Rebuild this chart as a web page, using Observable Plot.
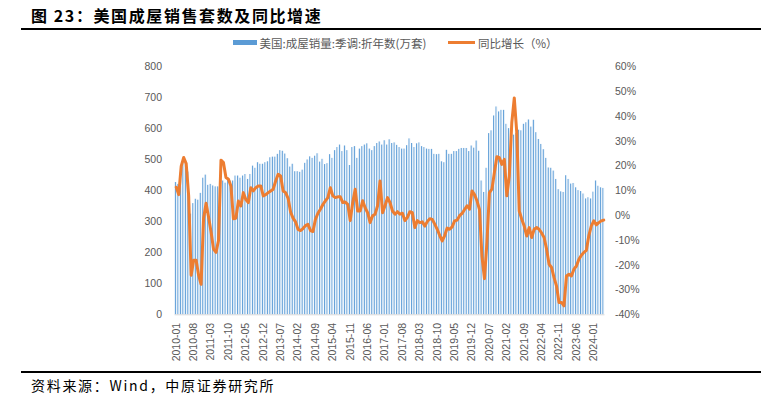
<!DOCTYPE html>
<html><head><meta charset="utf-8">
<script src="https://cdn.jsdelivr.net/npm/d3@7"></script>
<script src="https://cdn.jsdelivr.net/npm/@observablehq/plot@0.6"></script>
<style>
body{margin:0;background:#fff;}
#wrap{position:relative;width:773px;height:398px;overflow:hidden;background:#fff;font-family:"Noto Sans CJK SC","Noto Sans",sans-serif;}
.abs{position:absolute;white-space:nowrap;}
#title{left:31px;top:6px;font-size:16px;line-height:18px;font-weight:700;color:#000;letter-spacing:1.6px;}
.rule{position:absolute;left:21px;width:740px;background:#000;}
.leg{font-size:11.5px;line-height:14px;color:#595959;top:35.5px;}
#caption{left:31px;top:377px;font-size:14px;line-height:16px;color:#000;letter-spacing:1.7px;}
#chart{position:absolute;left:0;top:0;}
</style></head><body>
<div id="wrap">
  <div id="title" class="abs">图 23：美国成屋销售套数及同比增速</div>
  <div class="rule" style="top:28px;height:2px"></div>
  <div class="abs" style="left:233px;top:40px;width:24px;height:5px;background:#5B9BD5"></div>
  <div class="abs leg" style="left:259.5px">美国:成屋销量:季调:折年数(万套)</div>
  <div class="abs" style="left:448px;top:41px;width:27px;height:3px;background:#ED7D31"></div>
  <div class="abs leg" style="left:478px">同比增长（%）</div>
  <div id="chart"></div>
  <div class="rule" style="top:371px;height:2px"></div>
  <div id="caption" class="abs">资料来源：Wind，中原证券研究所</div>
</div>
<script>
// Existing home sales, SAAR (万套), monthly 2010-01 .. 2024-05
const sales = [
  427,421,460,490,494,461,325,359,373,370,392,441,   // 2010
  451,418,421,416,413,413,400,432,425,443,432,432,   // 2011
  448,448,441,448,453,437,453,480,473,491,486,486,   // 2012
  491,494,507,509,509,518,530,528,519,504,477,486,   // 2013
  462,462,460,467,489,500,510,505,512,520,493,502,   // 2014
  485,488,517,505,530,540,548,527,545,530,482,540,   // 2015
  543,505,535,543,548,552,535,530,543,553,558,548,   // 2016
  562,548,565,553,555,547,540,535,535,546,568,553,   // 2017
  540,552,555,543,540,535,534,534,518,517,518,494,   // 2018
  491,531,518,518,527,527,534,537,537,537,527,545,   // 2019
  538,561,528,432,395,473,585,594,642,671,655,660,   // 2020
  660,615,601,586,580,586,596,594,615,620,629,606,   // 2021
  628,588,566,550,533,505,474,473,464,437,404,397,   // 2022
  395,449,437,422,424,410,401,398,390,374,378,374,   // 2023
  396,432,415,410,408                                // 2024
];
// YoY growth (%)
const yoy = [
  11.5,8.5,20,23.5,21,8,-24,-18,-18,-24,-27.7,-1,
  5,-0.5,-6.5,-13.5,-14.8,-10,22.4,21.4,15.4,14.7,12,-1.2,
  -1,5.9,3.9,9.3,6.5,5.3,11.3,10,11.3,12,12,8,
  8.5,9.3,10,10.7,14,16.7,16,10,9.3,7,1.5,-1,
  -2.5,-5.5,-6,-5.2,-4,-3.5,-6,-6.4,-1.5,1,2.6,4.5,
  6,7.3,11.3,8,7.3,7.6,7.6,5.3,5.5,4.6,-2,5.3,
  10.7,1.9,1.9,6,3.2,1.2,-2.8,0,0.6,4,14,1.2,
  4,7.3,5.3,1.9,0.6,1.6,0.6,1,-2,-0.7,1.6,1.2,
  -4.8,-2,-2.8,-2.5,-4.2,-2.4,-1.2,-1.5,-3.4,-5.5,-8,-10.2,
  -8,-5,-5.5,-4.5,-2.1,-1.8,0,0.9,2.5,4,2.6,10,
  8.5,6,2.5,-16.4,-25.4,-10.8,9.3,10.7,17.4,23.8,23.4,20.7,
  22.7,8,16,37.5,47.5,33.5,1.9,-1.4,-4.2,-8.2,-4.8,-8.8,
  -5.5,-4.8,-5.5,-7,-8.8,-13.5,-19.6,-20.9,-25,-28.4,-35,-35,
  -36.4,-24.3,-23.6,-24.3,-21.6,-20.3,-17.6,-16,-14.8,-14,-8,-4.1,
  -2.1,-3.7,-2.8,-2.1,-1.8
];
const tickLabels = ["2010-01","2010-08","2011-03","2011-10","2012-05","2012-12","2013-07","2014-02","2014-09","2015-04","2015-11","2016-06","2017-01","2017-08","2018-03","2018-10","2019-05","2019-12","2020-07","2021-02","2021-09","2022-04","2022-11","2023-06","2024-01"];
const leftTicks = [0,100,200,300,400,500,600,700,800];
const rightTicks = [-40,-30,-20,-10,0,10,20,30,40,50,60];

// month categories 2010-01 .. 2024-05
const months = [];
for (let y = 2010; y <= 2024; y++) for (let m = 1; m <= 12; m++) {
  if (months.length < sales.length) months.push(`${y}-${String(m).padStart(2,"0")}`);
}
const toLeft = v => (v + 40) * 8; // right axis (-40..60%) onto left (0..800)
const data = months.map((m, i) => ({m, s: sales[i], g: yoy[i]}));

const svg = Plot.plot({
  width: 773, height: 398,
  marginLeft: 174.5, marginRight: 168.5, marginTop: 66.5, marginBottom: 83.7,
  style: {fontFamily: "'Liberation Sans', Arial, sans-serif", fontSize: "10.5px", color: "#595959", background: "transparent", overflow: "visible"},
  x: {type: "band", domain: months, paddingInner: 0.3, paddingOuter: 0.15, axis: null},
  y: {domain: [0, 800], axis: null},
  marks: [
    Plot.barY(data, {x: "m", y: "s", fill: "url(#barGrad)"}),
    Plot.ruleY([0], {stroke: "#D9D9D9", strokeWidth: 1}),
    Plot.line(data, {x: "m", y: d => toLeft(d.g), stroke: "#ED7D31", strokeWidth: 3, strokeLinejoin: "round", strokeLinecap: "round"}),
    Plot.axisY(leftTicks, {anchor: "left", tickSize: 0, tickPadding: 13, tickFormat: d => String(d), label: null}),
    Plot.axisY(rightTicks.map(toLeft), {anchor: "right", tickSize: 0, tickPadding: 10, tickFormat: d => `${Math.round(d / 8 - 40)}%`, label: null}),
    Plot.axisX(tickLabels, {anchor: "bottom", tickSize: 0, tickRotate: -90, tickPadding: 8, label: null})
  ]
});
const defs = d3.select(svg).insert("defs", ":first-child");
const grad = defs.append("linearGradient").attr("id", "barGrad").attr("x1", "0").attr("x2", "1").attr("y1", "0").attr("y2", "0");
[["0", "#5B9BD5"], ["0.4", "#6CA6DB"], ["0.6", "#C3DBF1"], ["1", "#E0EDF8"]].forEach(([o, c]) => grad.append("stop").attr("offset", o).attr("stop-color", c));
document.getElementById("chart").appendChild(svg);
</script>
</body></html>
